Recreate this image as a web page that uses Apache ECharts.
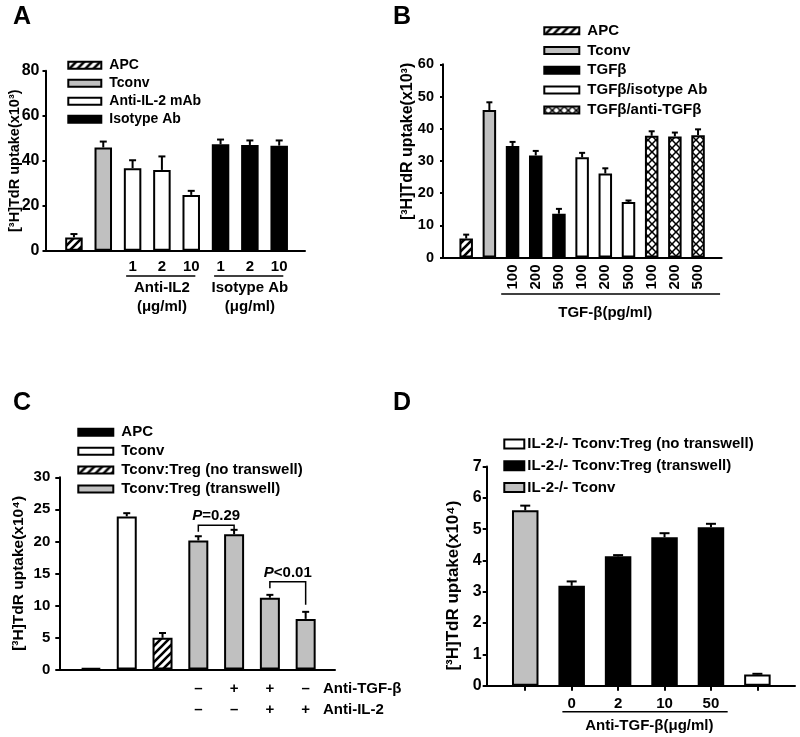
<!DOCTYPE html>
<html><head><meta charset="utf-8">
<script src="https://cdn.jsdelivr.net/npm/echarts@6/dist/echarts.min.js"></script>
<style>html,body{margin:0;padding:0;background:#fff}#c{width:800px;height:737px}</style>
</head><body><div id="c"></div>
<script>
// ---------- DATA ----------
// Panel A
const A_series = ['APC', 'Tconv', 'Anti-IL-2 mAb', 'Isotype Ab'];
const A_group = [0, 1, 2, 2, 2, 3, 3, 3];
const A_values = [5.9, 45.9, 36.7, 35.9, 24.8, 47.3, 47.0, 46.7];
const A_errors = [1.5, 2.6, 3.5, 6.0, 1.8, 2.1, 2.0, 2.3];
const A_ticks = ['', '', '1', '2', '10', '1', '2', '10'];
const A_yTicks = [0, 20, 40, 60, 80];
const A_groupStart = [2, 5];
const A_groupEnd = [4, 7];
const A_groupText = ['Anti-IL2\n(μg/ml)', 'Isotype Ab\n(μg/ml)'];

// Panel B
const B_series = ['APC', 'Tconv', 'TGFβ', 'TGFβ/isotype Ab', 'TGFβ/anti-TGFβ'];
const B_group = [0, 1, 2, 2, 2, 3, 3, 3, 4, 4, 4];
const B_values = [5.9, 45.8, 34.6, 31.7, 13.6, 31.1, 26.1, 17.2, 37.8, 37.6, 38.0];
const B_errors = [1.2, 2.4, 1.3, 1.4, 1.5, 1.4, 1.6, 0.5, 1.4, 1.2, 1.8];
const B_ticks = ['', '', '100', '200', '500', '100', '200', '500', '100', '200', '500'];
const B_yTicks = [0, 10, 20, 30, 40, 50, 60];
const B_groupStart = [2];
const B_groupEnd = [10];
const B_groupText = ['TGF-β(pg/ml)'];

// Panel C
const C_series = ['APC', 'Tconv', 'Tconv:Treg (no transwell)', 'Tconv:Treg (transwell)'];
const C_group = [0, 1, 2, 3, 3, 3, 3];
const C_values = [0.2, 23.9, 4.95, 20.15, 21.1, 11.2, 7.9];
const C_errors = [0, 0.5, 0.75, 0.65, 0.7, 0.45, 1.1];
const C_antiTGF = ['', '', '', '–', '+', '+', '–'];
const C_antiIL2 = ['', '', '', '–', '–', '+', '+'];
const C_rowNames = ['Anti-TGF-β', 'Anti-IL-2'];
const C_yTicks = [0, 5, 10, 15, 20, 25, 30];
const C_pLeft = [3, 5];
const C_pRight = [4, 6];
const C_pLevel = [22.5, 13.7];
const C_pLeftEnd = [21.5, 12.7];
const C_pRightEnd = [21.5, 10.1];
const C_pText = ['=0.29', '<0.01'];

// Panel D
const D_series = ['IL-2-/- Tconv:Treg (no transwell)', 'IL-2-/- Tconv:Treg (transwell)', 'IL-2-/- Tconv'];
const D_group = [2, 1, 1, 1, 1, 0];
const D_values = [5.6, 3.19, 4.13, 4.74, 5.06, 0.36];
const D_errors = [0.15, 0.14, 0.04, 0.13, 0.11, 0.02];
const D_ticks = ['', '0', '2', '10', '50', ''];
const D_yTicks = [0, 1, 2, 3, 4, 5, 6, 7];
const D_groupStart = [1];
const D_groupEnd = [4];
const D_groupText = ['Anti-TGF-β(μg/ml)'];

// ---------- STYLE ----------
const FONT = '"Liberation Sans", Arial, Helvetica, sans-serif';
function mkHatch() {
  const c = document.createElement('canvas'); c.width = c.height = 8;
  const g = c.getContext('2d');
  g.fillStyle = '#fff'; g.fillRect(0, 0, 8, 8);
  g.strokeStyle = '#000'; g.lineWidth = 2.6; g.beginPath();
  g.moveTo(-1, 9); g.lineTo(9, -1);
  g.moveTo(-1, 1); g.lineTo(1, -1);
  g.moveTo(7, 9); g.lineTo(9, 7);
  g.stroke(); return c;
}
function mkCross() {
  const c = document.createElement('canvas'); c.width = c.height = 8;
  const g = c.getContext('2d');
  g.fillStyle = '#000'; g.fillRect(0, 0, 8, 8);
  g.fillStyle = '#fff';
  const r = 2.9;
  [[4, 4], [0, 0], [8, 0], [0, 8], [8, 8]].forEach(([x, y]) => {
    g.beginPath(); g.moveTo(x, y - r); g.lineTo(x + r, y); g.lineTo(x, y + r); g.lineTo(x - r, y); g.closePath(); g.fill();
  });
  return c;
}
const HATCH = { image: mkHatch(), repeat: 'repeat' };
const CROSS = { image: mkCross(), repeat: 'repeat' };
const GRAY = '#c0c0c0';
const sup3 = '\u00b3', sup4 = '\u2074';

const panels = [
  { key: 'A', series: A_series, group: A_group, values: A_values, errors: A_errors, ticks: A_ticks, yTicks: A_yTicks,
    fills: [HATCH, GRAY, '#fff', '#000'],
    grid: { left: 45.5, top: 70.7, width: 259.5, height: 180 }, xmin: -0.97, xmax: 7.88, barW: 17.5, cap: 3.5,
    xMargin: 6, yMargin: 6, xFont: 15, yFont: 16, yTickLen: 3,
    yName: '[' + sup3 + 'H]TdR uptake(x10' + sup3 + ')', nameSize: 14.5, nameGap: 23, namePad: [0, 0, 0, 0],
    legend: { left: 67.3, top: 57.3, w: 33, h: 7, gap: 2, font: 14, pad: 3 },
    groups: { start: A_groupStart, end: A_groupEnd, text: A_groupText, ext0: 0.22, ext1: 0.14, lineOff: 25.3, textMid: 46.8, dx: 0 },
    title: { left: 13, top: 5 } },
  { key: 'B', series: B_series, group: B_group, values: B_values, errors: B_errors, ticks: B_ticks, yTicks: B_yTicks,
    fills: [HATCH, GRAY, '#000', '#fff', CROSS],
    grid: { left: 443, top: 64.3, width: 278.7, height: 193.2 }, xmin: -1.0, xmax: 11.02, barW: 13.5, cap: 3,
    xMargin: 7, yMargin: 9, xFont: 15, yFont: 14.5, yTickLen: 3, rotate: 90,
    yName: '[' + sup3 + 'H]TdR uptake(x10' + sup3 + ')', nameSize: 16, nameGap: 27, namePad: [0, 0, 0, 39],
    legend: { left: 543.3, top: 22.7, w: 35, h: 7, gap: 3.8, font: 15, pad: 3 },
    groups: { start: B_groupStart, end: B_groupEnd, text: B_groupText, ext0: 0.49, ext1: 0.95, lineOff: 36.5, textMid: 55.8, dx: 0 },
    title: { left: 393, top: 5 } },
  { key: 'C', series: C_series, group: C_group, values: C_values, errors: C_errors,
    ticks: C_antiTGF.map((s, i) => s ? s + '\n' + C_antiIL2[i] : ''), yTicks: C_yTicks,
    fills: ['#000', '#fff', HATCH, GRAY],
    grid: { left: 59.3, top: 477.3, width: 275.7, height: 192.2 }, xmin: -0.885, xmax: 6.82, barW: 20, cap: 3.5,
    xMargin: 9, yMargin: 9, xFont: 15, yFont: 15, yTickLen: 4,
    yName: '[' + sup3 + 'H]TdR uptake(x10' + sup4 + ')', nameSize: 15.5, nameGap: 33, namePad: [0, 0, 0, 0],
    legend: { left: 77.3, top: 424.3, w: 35, h: 7, gap: 2.9, font: 15, pad: 3 },
    xName: C_rowNames.join('\n'),
    title: { left: 13, top: 391 } },
  { key: 'D', series: D_series, group: D_group, values: D_values, errors: D_errors, ticks: D_ticks, yTicks: D_yTicks,
    fills: ['#fff', '#000', GRAY],
    grid: { left: 486.7, top: 466.5, width: 308.3, height: 219.2 }, xmin: -0.83, xmax: 5.81, barW: 26.5, cap: 5,
    xMargin: 8, yMargin: 5, xFont: 15, yFont: 16, yTickLen: 4, xTicks: true,
    yName: '[' + sup3 + 'H]TdR uptake(x10' + sup4 + ')', nameSize: 17, nameGap: 25, namePad: [0, 19, 0, 0],
    legend: { left: 503.3, top: 436, w: 20, h: 9, gap: 5.8, font: 15, pad: -2 },
    groups: { start: D_groupStart, end: D_groupEnd, text: D_groupText, ext0: 0.2, ext1: 0.36, lineOff: 26, textMid: 40.3, dx: 8 },
    title: { left: 393, top: 391 } }
];

const txt = (size) => ({ fontSize: size, fontWeight: 'bold', fontFamily: FONT, color: '#000' });
const axisLineStyle = { color: '#000', width: 2 };

const option = { animation: false, backgroundColor: '#fff', grid: [], xAxis: [], yAxis: [], series: [], legend: [], title: [] };

panels.forEach((p, k) => {
  option.grid.push(Object.assign({}, p.grid));
  option.title.push({ text: p.key, left: p.title.left, top: p.title.top, padding: 0, textStyle: txt(25) });
  const labelIdx = p.ticks.map((t, i) => t ? i : -1).filter(i => i >= 0);
  const xa = {
    gridIndex: k, type: 'value', min: p.xmin, max: p.xmax,
    axisLine: { show: true, onZero: false, lineStyle: axisLineStyle },
    axisTick: p.xTicks ? { show: true, customValues: p.values.map((_, i) => i), length: 5, lineStyle: axisLineStyle } : { show: false },
    splitLine: { show: false },
    axisLabel: Object.assign({ customValues: labelIdx, formatter: v => p.ticks[Math.round(v)], margin: p.xMargin, rotate: p.rotate || 0, lineHeight: 21 }, txt(p.xFont))
  };
  if (p.xName) {
    xa.name = p.xName; xa.nameLocation = 'end'; xa.nameGap = -12; xa.nameMoveOverlap = false;
    xa.nameTextStyle = Object.assign({ align: 'left', verticalAlign: 'top', lineHeight: 21, padding: [9, 0, 0, 0] }, txt(15));
  }
  option.xAxis.push(xa);
  const yT = p.yTicks;
  option.yAxis.push({
    gridIndex: k, type: 'value', min: yT[0], max: yT[yT.length - 1], interval: yT[1] - yT[0],
    axisLine: { show: true, onZero: false, lineStyle: axisLineStyle },
    axisTick: { show: true, length: p.yTickLen, lineStyle: axisLineStyle },
    splitLine: { show: false },
    axisLabel: Object.assign({ margin: p.yMargin }, txt(p.yFont)),
    name: p.yName, nameLocation: 'middle', nameGap: p.nameGap, nameMoveOverlap: false,
    nameTextStyle: Object.assign({ padding: p.namePad }, txt(p.nameSize))
  });
  const names = p.series.map(s => p.key + '|' + s);
  p.series.forEach((s, si) => {
    option.series.push({
      type: 'bar', name: names[si], xAxisIndex: k, yAxisIndex: k, barWidth: p.barW, barGap: '-100%',
      itemStyle: { color: p.fills[si], borderColor: '#000', borderWidth: 2 },
      data: p.values.map((v, i) => p.group[i] === si ? [i, v] : null).filter(d => d)
    });
  });
  // error bars
  option.series.push({
    type: 'custom', xAxisIndex: k, yAxisIndex: k, z: 5, clip: false,
    data: p.values.map((v, i) => [i, v, p.errors[i]]), encode: { x: 0, y: 1 },
    renderItem: (params, api) => {
      const x = api.value(0), v = api.value(1), e = api.value(2);
      if (!e) return null;
      const b = api.coord([x, v]), t = api.coord([x, v + e]);
      return { type: 'group', children: [
        { type: 'line', shape: { x1: b[0], y1: b[1], x2: t[0], y2: t[1] }, style: { stroke: '#000', lineWidth: 2 } },
        { type: 'line', shape: { x1: t[0] - p.cap, y1: t[1], x2: t[0] + p.cap, y2: t[1] }, style: { stroke: '#000', lineWidth: 2 } }
      ] };
    }
  });
  // group annotations under axis
  if (p.groups) {
    const g = p.groups;
    option.series.push({
      type: 'custom', xAxisIndex: k, yAxisIndex: k, z: 5, clip: false, silent: true,
      data: g.start.map((s, i) => [s, g.end[i], (s + g.end[i]) / 2, 0]), encode: { x: [0, 1, 2], y: 3 },
      renderItem: (params, api) => {
        const s = api.value(0), e = api.value(1), c = api.value(2);
        const p1 = api.coord([s - g.ext0, 0]), p2 = api.coord([e + g.ext1, 0]), pc = api.coord([c, 0]);
        const y = p1[1];
        return { type: 'group', children: [
          { type: 'line', shape: { x1: p1[0], y1: y + g.lineOff, x2: p2[0], y2: y + g.lineOff }, style: { stroke: '#000', lineWidth: 1.5 } },
          { type: 'text', x: pc[0] + g.dx, y: y + g.textMid, style: { text: g.text[params.dataIndex], fontSize: 15, fontWeight: 'bold', fontFamily: FONT, fill: '#000', align: 'center', verticalAlign: 'middle', lineHeight: 18.4 } }
        ] };
      }
    });
  }
  // significance brackets (panel C)
  if (p.key === 'C') {
    option.series.push({
      type: 'custom', xAxisIndex: k, yAxisIndex: k, z: 5, clip: false, silent: true,
      data: C_pLeft.map((l, i) => [l, C_pRight[i], C_pLevel[i], C_pLeftEnd[i], C_pRightEnd[i]]), encode: { x: [0, 1], y: [2, 3, 4] },
      renderItem: (params, api) => {
        const l = api.value(0), r = api.value(1), lv = api.value(2), le = api.value(3), re = api.value(4);
        const a = api.coord([l, le]), b = api.coord([l, lv]), c = api.coord([r, lv]), d = api.coord([r, re]);
        return { type: 'group', children: [
          { type: 'polyline', shape: { points: [a, b, c, d] }, style: { stroke: '#000', lineWidth: 1.5, fill: null } },
          { type: 'text', x: (b[0] + c[0]) / 2, y: b[1] - 9, style: { text: '{i|P}' + C_pText[params.dataIndex], fontSize: 15, fontWeight: 'bold', fontFamily: FONT, fill: '#000', align: 'center', verticalAlign: 'middle',
            rich: { i: { fontStyle: 'italic', fontWeight: 'bold', fontSize: 15, fontFamily: FONT, fill: '#000' } } } }
        ] };
      }
    });
  }
  option.legend.push({
    data: names, orient: 'vertical', left: p.legend.left, top: p.legend.top, padding: 0,
    itemWidth: p.legend.w, itemHeight: p.legend.h, itemGap: p.legend.gap, icon: 'rect', selectedMode: false,
    formatter: n => n.slice(2),
    textStyle: Object.assign({ lineHeight: 16, padding: [0, 0, 0, p.legend.pad] }, txt(p.legend.font))
  });
});

const chart = echarts.init(document.getElementById('c'), null, { renderer: 'canvas' });
chart.setOption(option);
</script>
</body></html>
